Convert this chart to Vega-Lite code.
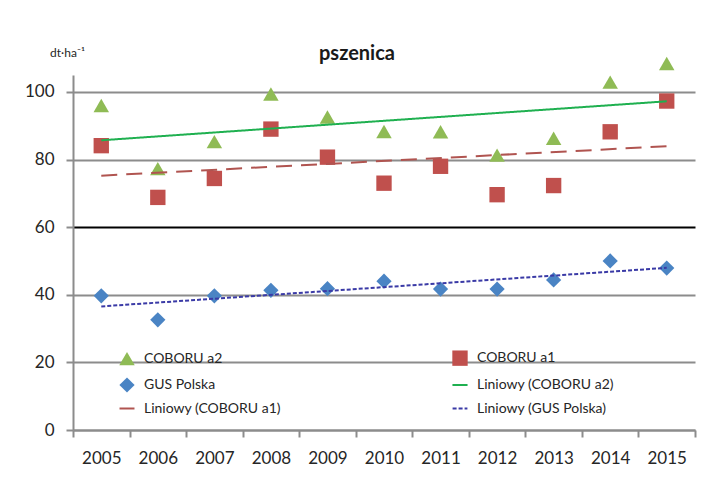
{
  "$schema": "https://vega.github.io/schema/vega-lite/v6.json",
  "width": 622,
  "height": 355,
  "autosize": {"type": "none"},
  "padding": {"left": 73, "top": 75, "right": 19, "bottom": 63},
  "background": "white",
  "title": {
    "text": "pszenica",
    "frame": "group",
    "anchor": "middle",
    "dx": -27,
    "dy": 22,
    "font": "Lato",
    "fontSize": 20,
    "fontWeight": "bold",
    "color": "#1a1a1a"
  },
  "data": {
    "values": [
      {"year": 2005, "series": "COBORU a2", "trend": "Liniowy (COBORU a2)", "value": 96.0},
      {"year": 2006, "series": "COBORU a2", "trend": "Liniowy (COBORU a2)", "value": 77.3},
      {"year": 2007, "series": "COBORU a2", "trend": "Liniowy (COBORU a2)", "value": 85.3},
      {"year": 2008, "series": "COBORU a2", "trend": "Liniowy (COBORU a2)", "value": 99.4},
      {"year": 2009, "series": "COBORU a2", "trend": "Liniowy (COBORU a2)", "value": 92.6},
      {"year": 2010, "series": "COBORU a2", "trend": "Liniowy (COBORU a2)", "value": 88.3},
      {"year": 2011, "series": "COBORU a2", "trend": "Liniowy (COBORU a2)", "value": 88.2},
      {"year": 2012, "series": "COBORU a2", "trend": "Liniowy (COBORU a2)", "value": 81.3},
      {"year": 2013, "series": "COBORU a2", "trend": "Liniowy (COBORU a2)", "value": 86.3},
      {"year": 2014, "series": "COBORU a2", "trend": "Liniowy (COBORU a2)", "value": 102.9},
      {"year": 2015, "series": "COBORU a2", "trend": "Liniowy (COBORU a2)", "value": 108.4},
      {"year": 2005, "series": "COBORU a1", "trend": "Liniowy (COBORU a1)", "value": 84.1},
      {"year": 2006, "series": "COBORU a1", "trend": "Liniowy (COBORU a1)", "value": 68.8},
      {"year": 2007, "series": "COBORU a1", "trend": "Liniowy (COBORU a1)", "value": 74.4},
      {"year": 2008, "series": "COBORU a1", "trend": "Liniowy (COBORU a1)", "value": 89.0},
      {"year": 2009, "series": "COBORU a1", "trend": "Liniowy (COBORU a1)", "value": 80.7},
      {"year": 2010, "series": "COBORU a1", "trend": "Liniowy (COBORU a1)", "value": 73.0},
      {"year": 2011, "series": "COBORU a1", "trend": "Liniowy (COBORU a1)", "value": 78.0},
      {"year": 2012, "series": "COBORU a1", "trend": "Liniowy (COBORU a1)", "value": 69.6},
      {"year": 2013, "series": "COBORU a1", "trend": "Liniowy (COBORU a1)", "value": 72.3},
      {"year": 2014, "series": "COBORU a1", "trend": "Liniowy (COBORU a1)", "value": 88.2},
      {"year": 2015, "series": "COBORU a1", "trend": "Liniowy (COBORU a1)", "value": 97.3},
      {"year": 2005, "series": "GUS Polska", "trend": "Liniowy (GUS Polska)", "value": 39.7},
      {"year": 2006, "series": "GUS Polska", "trend": "Liniowy (GUS Polska)", "value": 32.6},
      {"year": 2007, "series": "GUS Polska", "trend": "Liniowy (GUS Polska)", "value": 39.7},
      {"year": 2008, "series": "GUS Polska", "trend": "Liniowy (GUS Polska)", "value": 41.3},
      {"year": 2009, "series": "GUS Polska", "trend": "Liniowy (GUS Polska)", "value": 41.8},
      {"year": 2010, "series": "GUS Polska", "trend": "Liniowy (GUS Polska)", "value": 44.0},
      {"year": 2011, "series": "GUS Polska", "trend": "Liniowy (GUS Polska)", "value": 41.7},
      {"year": 2012, "series": "GUS Polska", "trend": "Liniowy (GUS Polska)", "value": 41.7},
      {"year": 2013, "series": "GUS Polska", "trend": "Liniowy (GUS Polska)", "value": 44.4},
      {"year": 2014, "series": "GUS Polska", "trend": "Liniowy (GUS Polska)", "value": 50.0},
      {"year": 2015, "series": "GUS Polska", "trend": "Liniowy (GUS Polska)", "value": 47.9}
    ]
  },
  "encoding": {
    "x": {
      "field": "year",
      "type": "ordinal",
      "scale": {"domain": [2005, 2006, 2007, 2008, 2009, 2010, 2011, 2012, 2013, 2014, 2015], "paddingInner": 0, "paddingOuter": 0},
      "axis": {
        "title": null,
        "labelAngle": 0,
        "tickBand": "extent",
        "labelFont": "Lato",
        "labelFontSize": 17,
        "labelColor": "#262626",
        "labelPadding": 13,
        "tickSize": 7,
        "tickColor": "#8c8c8c",
        "tickWidth": 2,
        "domainColor": "#8c8c8c",
        "domainWidth": 2,
        "grid": false
      }
    },
    "y": {
      "field": "value",
      "type": "quantitative",
      "scale": {"domain": [0, 105], "nice": false, "zero": true},
      "axis": {
        "title": "dt·ha⁻¹",
        "titleAngle": 0,
        "titleX": -6,
        "titleY": -23,
        "titleAlign": "center",
        "titleBaseline": "middle",
        "titleFont": "Lato",
        "titleFontSize": 12,
        "titleFontWeight": "normal",
        "titleColor": "#262626",
        "values": [0, 20, 40, 60, 80, 100],
        "labelFont": "Lato",
        "labelFontSize": 17,
        "labelColor": "#262626",
        "labelPadding": 12,
        "tickSize": 7,
        "tickColor": "#8c8c8c",
        "tickWidth": 2,
        "domainColor": "#8c8c8c",
        "domainWidth": 2,
        "grid": true,
        "gridColor": {"condition": {"test": "datum.value === 60", "value": "#000000"}, "value": "#8c8c8c"},
        "gridWidth": 2
      }
    }
  },
  "layer": [
    {
      "mark": {"type": "point", "filled": true, "opacity": 1, "clip": false},
      "encoding": {
        "fill": {
          "field": "series",
          "type": "nominal",
          "scale": {
            "domain": ["COBORU a2", "COBORU a1", "GUS Polska", "Liniowy (COBORU a2)", "Liniowy (COBORU a1)", "Liniowy (GUS Polska)"],
            "range": ["#8fbb55", "#c0504d", "#4a84c4", "transparent", "transparent", "transparent"]
          }
        },
        "shape": {
          "field": "series",
          "type": "nominal",
          "scale": {
            "domain": ["COBORU a2", "COBORU a1", "GUS Polska", "Liniowy (COBORU a2)", "Liniowy (COBORU a1)", "Liniowy (GUS Polska)"],
            "range": ["triangle-up", "square", "diamond", "stroke", "stroke", "stroke"]
          }
        },
        "size": {
          "field": "series",
          "type": "nominal",
          "scale": {
            "domain": ["COBORU a2", "COBORU a1", "GUS Polska", "Liniowy (COBORU a2)", "Liniowy (COBORU a1)", "Liniowy (GUS Polska)"],
            "range": [240, 220, 280, 6400, 6400, 6400]
          }
        }
      }
    },
    {
      "transform": [
        {"regression": "value", "on": "year", "groupby": ["trend"], "method": "linear", "extent": [2005, 2015]}
      ],
      "mark": {"type": "line", "strokeWidth": 2, "clip": false},
      "encoding": {
        "stroke": {
          "field": "trend",
          "type": "nominal",
          "scale": {
            "domain": ["COBORU a2", "COBORU a1", "GUS Polska", "Liniowy (COBORU a2)", "Liniowy (COBORU a1)", "Liniowy (GUS Polska)"],
            "range": ["transparent", "transparent", "transparent", "#1fb050", "#b05450", "#3a3aa6"]
          }
        },
        "strokeDash": {
          "field": "trend",
          "type": "nominal",
          "scale": {
            "domain": ["COBORU a2", "COBORU a1", "GUS Polska", "Liniowy (COBORU a2)", "Liniowy (COBORU a1)", "Liniowy (GUS Polska)"],
            "range": [[1, 0], [1, 0], [1, 0], [1, 0], [16, 9], [4, 2]]
          }
        }
      }
    }
  ],
  "config": {
    "view": {"stroke": null},
    "legend": {
      "title": null,
      "orient": "none",
      "legendX": 45,
      "legendY": 274,
      "direction": "horizontal",
      "columns": 2,
      "columnPadding": 167,
      "rowPadding": 3,
      "padding": 0,
      "labelFont": "Lato",
      "labelFontSize": 14,
      "labelColor": "#262626",
      "labelOffset": 8,
      "labelLimit": 300,
      "symbolStrokeWidth": 2
    }
  }
}
